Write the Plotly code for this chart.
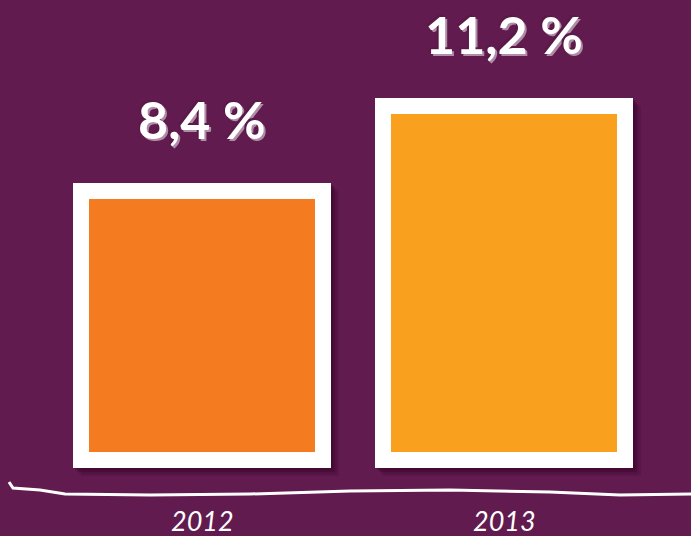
import plotly.graph_objects as go

# ---- data ----
years = ["2012", "2013"]
values = [8.4, 11.2]
value_labels = ["8,4 %", "11,2 %"]
bar_colors = ["#f47b20", "#f9a01e"]

BG = "#611b4f"
W, H = 691, 536
px_per_unit_y = 30.1
px_per_unit_x = 302.0
bar_width = 0.748
frame_px = 32  # white frame line (half outside the bar)

fig = go.Figure()

# soft shadow layers (bottom-right)
for shift, alpha in [(8, 0.15), (6, 0.22), (4, 0.3), (2, 0.35)]:
    dx = shift / px_per_unit_x
    dy = shift / px_per_unit_y
    fig.add_trace(go.Bar(
        x=[0, 1], y=values, base=[-dy] * len(values),
        width=bar_width, offset=[-bar_width / 2 + dx] * len(values),
        marker=dict(color=f"rgba(55,3,40,{alpha})",
                    line=dict(color=f"rgba(55,3,40,{alpha})", width=frame_px)),
        hoverinfo="skip", showlegend=False,
    ))

# white frame
fig.add_trace(go.Bar(
    x=[0, 1], y=values, width=bar_width,
    marker=dict(color="white", line=dict(color="white", width=frame_px)),
    hoverinfo="skip", showlegend=False,
))
# coloured fill
fig.add_trace(go.Bar(
    x=[0, 1], y=values, width=bar_width,
    marker=dict(color=bar_colors, line=dict(width=0)),
    showlegend=False,
))

# value labels
for i, (v, lab) in enumerate(zip(values, value_labels)):
    fig.add_annotation(
        x=i, y=v, text=lab, showarrow=False, yanchor="middle", yshift=80,
        font=dict(family="Lato", size=52, color="white", weight="bold",
                  shadow="-2px -2px 0px #5a1a48, 2px 2px 0px rgba(255,255,255,0.5)"),
    )

# year labels
for i, yr in enumerate(years):
    fig.add_annotation(
        x=i, y=1 - 520 / H, yref="paper", text=yr, showarrow=False,
        yanchor="middle",
        font=dict(family="Lato", size=27, color="white", style="italic"),
    )

# hand-drawn baseline
pts = [(9, 482), (13, 488), (40, 490), (65, 494), (150, 495), (250, 494),
       (350, 491), (450, 490), (550, 492), (620, 495), (691, 494)]
path = "M " + " L ".join(f"{x / W:.5f},{1 - y / H:.5f}" for x, y in pts)
fig.add_shape(type="path", path=path, xref="paper", yref="paper",
              line=dict(color="white", width=3))

x0 = -202 / px_per_unit_x
x1 = (W - 202) / px_per_unit_x
y0 = -(H - 451.5) / px_per_unit_y
y1 = 451.5 / px_per_unit_y

fig.update_layout(
    width=W, height=H, barmode="overlay",
    margin=dict(l=0, r=0, t=0, b=0),
    paper_bgcolor=BG, plot_bgcolor=BG,
    xaxis=dict(range=[x0, x1], visible=False, fixedrange=True),
    yaxis=dict(range=[y0, y1], visible=False, fixedrange=True),
    bargap=0,
)

fig.write_html(
    "out.html",
    config={"displayModeBar": False},
    post_script="document.body.style.margin='0';document.body.style.background='%s';" % BG,
)
